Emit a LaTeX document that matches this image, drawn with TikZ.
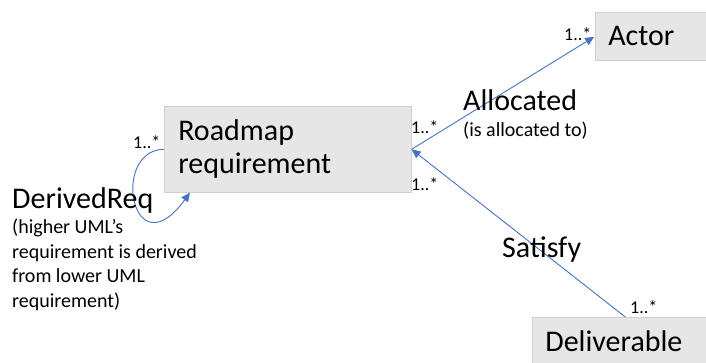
\documentclass[tikz,border=0pt]{standalone}
\usepackage{fontspec}
\setmainfont{Carlito}
\usetikzlibrary{arrows.meta}
\definecolor{boxfill}{HTML}{E7E6E6}
\definecolor{boxline}{HTML}{D0CECE}
\definecolor{connblue}{HTML}{4472C4}
\tikzset{
  box/.style={draw=boxline, fill=boxfill, line width=0.6pt, anchor=north west,
    inner ysep=0pt, align=left, font=\fontsize{30}{33}\selectfont},
  conn/.style={draw=connblue, line width=0.9pt, -{Triangle[length=9pt,width=8pt]}},
  big/.style={anchor=base west, inner sep=0pt, font=\fontsize{30}{33}\selectfont},
  small/.style={inner sep=0pt, font=\fontsize{20}{24.5}\selectfont},
  mult/.style={anchor=base west, inner sep=0pt, font=\fontsize{18}{20}\selectfont}
}
\begin{document}
\begin{tikzpicture}[x=1pt,y=-1pt]
\useasboundingbox (0,0) rectangle (706,362);
% boxes
\node[box, inner xsep=14pt, text width=219pt, minimum height=86pt] (Roadmap) at (164,106) {Roadmap\\requirement};
\node[box, inner xsep=13pt, text width=85pt, minimum height=48pt] (Actor) at (595,12) {Actor};
\node[box, inner xsep=13pt, text width=148pt, minimum height=47pt] (Deliverable) at (532,317) {Deliverable};
% connectors
\draw[conn, shorten >=1pt] (Roadmap.east) -- (Actor.west);
\draw[conn] ([xshift=6pt]Deliverable.north) -- (Roadmap.east);
\draw[conn] (Roadmap.west) .. controls (110,150) and (132,272) .. ([xshift=26pt]Roadmap.south west);
% labels
\node[big] (alloc) at (463,110) {Allocated};
\node[small, anchor=base west] (allocdesc) at (463,136) {(is allocated to)};
\node[big] (satisfy) at (502,257) {Satisfy};
\node[big] (derived) at (12,208) {DerivedReq};
\node[small, anchor=north west, align=left] (deriveddesc) at (12,219) {(higher UML’s\\requirement is derived\\from lower UML\\requirement)};
% multiplicities
\node[mult] (mActor) at (564,40) {1..*};
\node[mult] (mRoadA) at (411,133) {1..*};
\node[mult] (mRoadS) at (411,190) {1..*};
\node[mult] (mDel) at (630,313) {1..*};
\node[mult] (mLoop) at (133,148) {1..*};
\end{tikzpicture}
\end{document}
